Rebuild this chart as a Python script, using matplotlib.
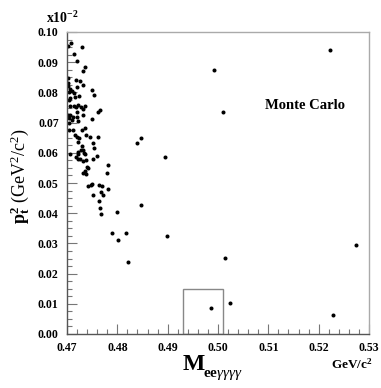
import matplotlib
matplotlib.use("Agg")
import matplotlib.pyplot as plt
from matplotlib.ticker import MultipleLocator, FormatStrFormatter
from matplotlib.patches import Rectangle

plt.rcParams['font.family'] = ['Liberation Serif', 'DejaVu Serif']
plt.rcParams['mathtext.fontset'] = 'custom'
plt.rcParams['mathtext.rm'] = 'Liberation Serif'
plt.rcParams['mathtext.bf'] = 'Liberation Serif:bold'
plt.rcParams['mathtext.it'] = 'Liberation Serif:italic'

# Data (y in units of 10^-2)
mass = [
    0.4701, 0.4708, 0.4730, 0.4713, 0.4720, 0.4731, 0.4736,
    0.4701, 0.4701, 0.4701, 0.4718, 0.4726, 0.4732, 0.4719, 0.4749, 0.4754,
    0.4706, 0.4713, 0.4705, 0.4703, 0.4716, 0.4724, 0.4710, 0.4703,
    0.4713, 0.4718, 0.4722, 0.4728, 0.4736, 0.4731, 0.4719, 0.4705,
    0.4701, 0.4703, 0.4709, 0.4706, 0.4719, 0.4722, 0.4732, 0.4749, 0.4762, 0.4766, 0.4703, 0.4712,
    0.4703, 0.4711, 0.4716, 0.4719, 0.4729, 0.4736, 0.4738, 0.4746, 0.4761,
    0.4722, 0.4729, 0.4732, 0.4751, 0.4754, 0.4724,
    0.4706, 0.4721, 0.4722, 0.4736, 0.4759, 0.4727, 0.4733,
    0.4721, 0.4726, 0.4731, 0.4738, 0.4752, 0.4717,
    0.4742, 0.4739, 0.4782, 0.4732, 0.4738, 0.4735, 0.4780,
    0.4742, 0.4747, 0.4750, 0.4764, 0.4770, 0.4752, 0.4767, 0.4772, 0.4781,
    0.4764, 0.4766, 0.4767,
    0.4800, 0.4789, 0.4817, 0.4801, 0.4821, 0.4847, 0.4899,
    0.4840, 0.4848, 0.4895,
    0.5223, 0.4993, 0.5009, 0.5274, 0.5013, 0.4987, 0.5024, 0.5228,
]
pt2 = [
    0.0955, 0.0965, 0.0950, 0.0927, 0.0904, 0.0871, 0.0883,
    0.0847, 0.0830, 0.0821, 0.0841, 0.0839, 0.0825, 0.0817, 0.0808, 0.0791,
    0.0810, 0.0799, 0.0783, 0.0775, 0.0786, 0.0788, 0.0805, 0.0800,
    0.0755, 0.0751, 0.0758, 0.0753, 0.0755, 0.0744, 0.0736, 0.0755,
    0.0725, 0.0714, 0.0709, 0.0725, 0.0717, 0.0706, 0.0725, 0.0712, 0.0736, 0.0742, 0.0700, 0.0720,
    0.0675, 0.0677, 0.0659, 0.0653, 0.0675, 0.0681, 0.0659, 0.0651, 0.0653,
    0.0637, 0.0624, 0.0609, 0.0631, 0.0615, 0.0650,
    0.0596, 0.0596, 0.0604, 0.0595, 0.0590, 0.0610, 0.0600,
    0.0581, 0.0578, 0.0574, 0.0576, 0.0578, 0.0585,
    0.0549, 0.0554, 0.0560, 0.0534, 0.0530, 0.0540, 0.0532,
    0.0490, 0.0493, 0.0496, 0.0492, 0.0491, 0.0460, 0.0470, 0.0461, 0.0481,
    0.0440, 0.0416, 0.0397,
    0.0404, 0.0336, 0.0334, 0.0312, 0.0240, 0.0427, 0.0326,
    0.0631, 0.0648, 0.0585,
    0.0940, 0.0874, 0.0736, 0.0295, 0.0253, 0.0086, 0.0104, 0.0062,
]
box_x = [0.493, 0.501]
box_y = [0.0, 0.015]

fig = plt.figure(figsize=(3.81, 3.88), dpi=100)
ax = fig.add_axes([67/381, 54/388, 302/381, 302/388])

ax.plot(mass, pt2, 'o', color='black', markersize=2.9, markeredgewidth=0)
ax.add_patch(Rectangle((box_x[0], box_y[0]), box_x[1]-box_x[0], box_y[1]-box_y[0],
                       fill=False, edgecolor='#888888', linewidth=1.0))

ax.set_xlim(0.47, 0.53)
ax.set_ylim(0.0, 0.10)
ax.xaxis.set_major_locator(MultipleLocator(0.01))
ax.xaxis.set_minor_locator(MultipleLocator(0.002))
ax.yaxis.set_major_locator(MultipleLocator(0.01))
ax.yaxis.set_minor_locator(MultipleLocator(0.0025))
ax.xaxis.set_major_formatter(FormatStrFormatter('%.2f'))
ax.yaxis.set_major_formatter(FormatStrFormatter('%.2f'))

ax.tick_params(which='both', direction='in', color='#777777', top=False, right=False)
ax.tick_params(which='major', length=7, width=0.8, labelsize=8.5, pad=6)
ax.tick_params(which='minor', length=3.5, width=0.8)
for lab in ax.get_xticklabels() + ax.get_yticklabels():
    lab.set_fontweight('bold')

ax.spines['left'].set_color('#555555')
ax.spines['bottom'].set_color('#555555')
ax.spines['top'].set_color('#aaaaaa')
ax.spines['right'].set_color('#aaaaaa')
for s in ax.spines.values():
    s.set_linewidth(1.0)

ax.text(0.5173, 0.0758, 'Monte Carlo', fontsize=10.5, fontweight='bold',
        ha='center', va='center')

fig.text(46/381, 1-23/388, r'x10$^{\mathbf{-2}}$', fontsize=10, fontweight='bold',
         ha='left', va='baseline')
fig.text(20/381, 1-176/388, r'$\mathbf{p}_{\mathbf{t}}^{\mathbf{2}}$ (GeV$^2$/c$^2$)',
         fontsize=13, rotation=90, ha='center', va='center')
fig.text(182/381, 1-370/388, r'$\mathbf{M}$', fontsize=17, ha='left', va='baseline')
fig.text(203/381, 1-377/388, r'$\mathbf{ee}\gamma\gamma\gamma\gamma$', fontsize=11,
         ha='left', va='baseline')
fig.text(373/381, 1-369/388, r'GeV/c$^{\mathbf{2}}$', fontsize=9.5, fontweight='bold',
         ha='right', va='baseline')

fig.savefig('out.png', dpi=100)
